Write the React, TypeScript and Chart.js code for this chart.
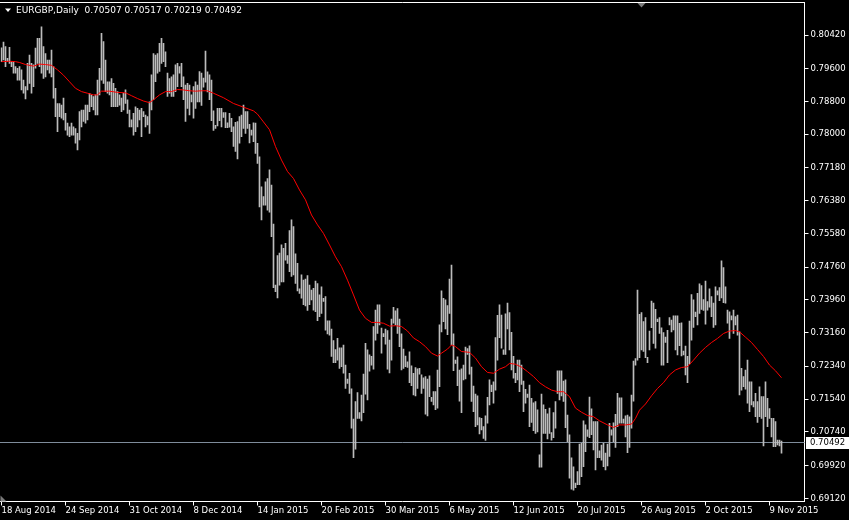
import React, { useEffect, useRef } from "react";
import { Chart, registerables } from "chart.js";

Chart.register(...registerables);

const HEADER_SYMBOL = "EURGBP,Daily";
const LAST_OHLC = [0.70507, 0.70517, 0.70219, 0.70492];

const DATE_TICKS = [
  "18 Aug 2014", "24 Sep 2014", "31 Oct 2014", "8 Dec 2014", "14 Jan 2015",
  "20 Feb 2015", "30 Mar 2015", "6 May 2015", "12 Jun 2015", "20 Jul 2015",
  "26 Aug 2015", "2 Oct 2015", "9 Nov 2015",
];
const BARS_PER_DATE_TICK = 32;
const TOTAL_SLOTS = 402;

const PRICE_TICKS = [
  0.8042, 0.796, 0.788, 0.78, 0.7718, 0.7638, 0.7558, 0.7476, 0.7396,
  0.7316, 0.7234, 0.7154, 0.7074, 0.6992, 0.6912,
];
const PRICE_MIN = 0.69042;
const PRICE_MAX = 0.81213;

const HIGHS = [
  0.8011, 0.8025, 0.8014, 0.7985, 0.8012, 0.7977, 0.7977, 0.7965, 0.7961, 0.7965,
  0.7957, 0.7932, 0.7916, 0.7973, 0.7993, 0.7973, 0.7969, 0.801, 0.8034, 0.8034,
  0.8062, 0.8014, 0.7997, 0.7981, 0.7981, 0.8005, 0.7965, 0.7912, 0.7875, 0.7875,
  0.7871, 0.7888, 0.7851, 0.7827, 0.7818, 0.7827, 0.7818, 0.7814, 0.7802, 0.7855,
  0.7859, 0.7859, 0.7871, 0.7871, 0.79, 0.7896, 0.7892, 0.7896, 0.7932, 0.7961,
  0.8046, 0.8026, 0.7981, 0.7928, 0.7928, 0.7936, 0.7924, 0.7912, 0.7904, 0.7896,
  0.7888, 0.79, 0.7908, 0.7884, 0.7859, 0.7835, 0.7851, 0.7867, 0.7863, 0.7859,
  0.7863, 0.7855, 0.7847, 0.7843, 0.7879, 0.7945, 0.7997, 0.7993, 0.7997, 0.8022,
  0.8034, 0.8022, 0.8001, 0.7949, 0.7936, 0.794, 0.7945, 0.7969, 0.7973, 0.7965,
  0.7973, 0.794, 0.792, 0.7924, 0.792, 0.7896, 0.7916, 0.7928, 0.792, 0.7953,
  0.7949, 0.7937, 0.8003, 0.7952, 0.7945, 0.7932, 0.7857, 0.7822, 0.7863, 0.7863,
  0.7863, 0.7853, 0.7853, 0.7828, 0.7851, 0.7839, 0.7818, 0.7829, 0.7831, 0.7843,
  0.7847, 0.7871, 0.7855, 0.7855, 0.7824, 0.781, 0.7828, 0.7827, 0.7778, 0.7745,
  0.7672, 0.7648, 0.7684, 0.7692, 0.7713, 0.7676, 0.7581, 0.7432, 0.7504, 0.751,
  0.753, 0.7522, 0.7534, 0.7504, 0.7565, 0.7591, 0.7575, 0.7508, 0.7485, 0.7423,
  0.7457, 0.7444, 0.7447, 0.7455, 0.7432, 0.742, 0.7424, 0.7442, 0.7436, 0.7408,
  0.7428, 0.74, 0.7404, 0.7345, 0.7345, 0.7325, 0.7297, 0.7275, 0.7302, 0.7279,
  0.7279, 0.7286, 0.7237, 0.7203, 0.7217, 0.7179, 0.7105, 0.7148, 0.717, 0.7121,
  0.7164, 0.7215, 0.729, 0.7274, 0.7262, 0.7258, 0.7331, 0.7371, 0.7384, 0.7384,
  0.7327, 0.7314, 0.7325, 0.7321, 0.7298, 0.7349, 0.7378, 0.7369, 0.7375, 0.7349,
  0.7313, 0.7276, 0.7259, 0.7245, 0.7269, 0.7235, 0.7217, 0.7231, 0.7228, 0.7229,
  0.7213, 0.7206, 0.7209, 0.7203, 0.7211, 0.7158, 0.7172, 0.7172, 0.7225, 0.7335,
  0.7418, 0.74, 0.7396, 0.7382, 0.7447, 0.7481, 0.7313, 0.7249, 0.7257, 0.7225,
  0.7228, 0.7237, 0.7281, 0.7277, 0.7284, 0.7232, 0.7186, 0.7166, 0.7162, 0.7109,
  0.7107, 0.7087, 0.7113, 0.7158, 0.7201, 0.7188, 0.7196, 0.7304, 0.7358, 0.7384,
  0.7359, 0.7274, 0.7362, 0.7388, 0.7365, 0.7317, 0.7258, 0.7217, 0.7249, 0.7249,
  0.7237, 0.7198, 0.7178, 0.7166, 0.7188, 0.7156, 0.7145, 0.7148, 0.7128, 0.7018,
  0.7166, 0.714, 0.7129, 0.7118, 0.7132, 0.7072, 0.7121, 0.7148, 0.7223, 0.7223,
  0.7223, 0.7198, 0.7201, 0.7115, 0.7067, 0.7011, 0.6989, 0.6949, 0.6977, 0.7044,
  0.7046, 0.7101, 0.7091, 0.7079, 0.7159, 0.713, 0.7099, 0.7099, 0.7099, 0.7028,
  0.7042, 0.7046, 0.7022, 0.7044, 0.7095, 0.7079, 0.7096, 0.7117, 0.7168, 0.7157,
  0.7157, 0.7105, 0.7113, 0.7115, 0.7111, 0.7164, 0.7247, 0.7253, 0.742, 0.7361,
  0.7365, 0.7343, 0.7353, 0.7256, 0.732, 0.7393, 0.7388, 0.7373, 0.7349, 0.7353,
  0.7328, 0.7316, 0.7305, 0.7322, 0.7353, 0.7347, 0.7357, 0.7357, 0.7357, 0.7339,
  0.734, 0.7271, 0.7283, 0.7258, 0.7344, 0.7409, 0.7396, 0.7366, 0.7412, 0.7435,
  0.7431, 0.7397, 0.7442, 0.7392, 0.7423, 0.7404, 0.7388, 0.7428, 0.7418, 0.7426,
  0.7491, 0.7475, 0.7428, 0.7371, 0.7367, 0.7357, 0.7371, 0.7355, 0.7359, 0.7318,
  0.7229, 0.7209, 0.7225, 0.7249, 0.7196, 0.7196, 0.7148, 0.7168, 0.7148, 0.7184,
  0.716, 0.716, 0.7196, 0.7156, 0.7131, 0.7107, 0.7107, 0.7099, 0.7054, 0.7054,
  0.70517,
];

const LOWS = [
  0.7977, 0.7981, 0.7965, 0.7977, 0.7973, 0.7965, 0.7949, 0.7949, 0.7932, 0.7932,
  0.7908, 0.79, 0.7886, 0.7908, 0.7924, 0.79, 0.7916, 0.7961, 0.7973, 0.7965,
  0.7949, 0.7936, 0.794, 0.7957, 0.7949, 0.794, 0.7888, 0.7843, 0.7806, 0.7843,
  0.7839, 0.7835, 0.781, 0.7798, 0.7794, 0.7798, 0.7798, 0.7778, 0.7762, 0.7786,
  0.7818, 0.7831, 0.7827, 0.7835, 0.7855, 0.7867, 0.7859, 0.7847, 0.7847, 0.7896,
  0.7932, 0.7924, 0.7904, 0.79, 0.7896, 0.7867, 0.7867, 0.7867, 0.7867, 0.7871,
  0.7855, 0.7859, 0.7875, 0.7851, 0.7818, 0.7818, 0.7798, 0.7806, 0.7818, 0.7835,
  0.7794, 0.7843, 0.7818, 0.7823, 0.7802, 0.7859, 0.7884, 0.7928, 0.7949, 0.7953,
  0.7973, 0.7977, 0.7965, 0.7892, 0.79, 0.7892, 0.7892, 0.7904, 0.7916, 0.7949,
  0.7916, 0.7884, 0.7831, 0.7863, 0.7847, 0.7879, 0.7839, 0.7863, 0.7879, 0.7879,
  0.787, 0.7915, 0.7927, 0.7903, 0.7884, 0.7833, 0.7809, 0.7814, 0.782, 0.7833,
  0.7818, 0.7841, 0.7816, 0.7816, 0.7817, 0.7806, 0.777, 0.7758, 0.774, 0.7778,
  0.7794, 0.7814, 0.7802, 0.7814, 0.7779, 0.7798, 0.7782, 0.7753, 0.7729, 0.7623,
  0.7591, 0.7627, 0.7627, 0.7615, 0.761, 0.755, 0.7426, 0.7416, 0.7401, 0.7432,
  0.744, 0.744, 0.7493, 0.7485, 0.7465, 0.7453, 0.7457, 0.7436, 0.7418, 0.7412,
  0.74, 0.7384, 0.7381, 0.737, 0.7384, 0.7396, 0.7371, 0.7367, 0.7345, 0.7355,
  0.7363, 0.7392, 0.7322, 0.7313, 0.731, 0.7258, 0.7243, 0.7243, 0.7249, 0.7229,
  0.7233, 0.7217, 0.718, 0.7192, 0.7168, 0.7083, 0.7011, 0.7032, 0.7107, 0.7107,
  0.7101, 0.7121, 0.7166, 0.7152, 0.7222, 0.7237, 0.7227, 0.7298, 0.7314, 0.7335,
  0.7266, 0.7306, 0.7288, 0.7227, 0.7218, 0.7249, 0.7339, 0.7335, 0.7314, 0.7282,
  0.7225, 0.7229, 0.7233, 0.7231, 0.7194, 0.7187, 0.7164, 0.7162, 0.718, 0.7215,
  0.7168, 0.718, 0.7117, 0.7113, 0.716, 0.7148, 0.714, 0.7128, 0.7132, 0.7184,
  0.7318, 0.7343, 0.7325, 0.7311, 0.7363, 0.7286, 0.7223, 0.7241, 0.7187, 0.7149,
  0.7121, 0.7201, 0.7203, 0.7263, 0.7215, 0.7148, 0.7123, 0.7087, 0.7091, 0.7069,
  0.7079, 0.7058, 0.7053, 0.7095, 0.714, 0.7172, 0.7144, 0.7176, 0.7249, 0.7304,
  0.7278, 0.7263, 0.7263, 0.7325, 0.7274, 0.7225, 0.7205, 0.7194, 0.7201, 0.7172,
  0.719, 0.7123, 0.7144, 0.7158, 0.7087, 0.7097, 0.7077, 0.707, 0.7074, 0.6988,
  0.6988, 0.707, 0.707, 0.7057, 0.707, 0.7054, 0.706, 0.7083, 0.7168, 0.7152,
  0.7162, 0.7148, 0.7084, 0.705, 0.6961, 0.6934, 0.6932, 0.6938, 0.6945, 0.6945,
  0.6965, 0.6989, 0.7026, 0.7063, 0.706, 0.7067, 0.703, 0.6981, 0.7011, 0.7011,
  0.7005, 0.6989, 0.6981, 0.6991, 0.7014, 0.7066, 0.705, 0.7036, 0.7087, 0.7095,
  0.7095, 0.7095, 0.7062, 0.7023, 0.7036, 0.7083, 0.7149, 0.7237, 0.7249, 0.7255,
  0.7274, 0.727, 0.7255, 0.7243, 0.7274, 0.7328, 0.729, 0.7278, 0.7343, 0.7314,
  0.7237, 0.7237, 0.7292, 0.7243, 0.7335, 0.7318, 0.7323, 0.7274, 0.7262, 0.7284,
  0.7259, 0.7262, 0.7213, 0.7194, 0.724, 0.7298, 0.7329, 0.7355, 0.7335, 0.7363,
  0.7373, 0.737, 0.7337, 0.7371, 0.7378, 0.7355, 0.7329, 0.7335, 0.7408, 0.7394,
  0.7401, 0.7389, 0.7388, 0.7339, 0.7302, 0.7347, 0.7314, 0.7335, 0.731, 0.7164,
  0.7176, 0.7184, 0.7178, 0.7144, 0.7123, 0.714, 0.7135, 0.7111, 0.7097, 0.7111,
  0.7107, 0.704, 0.7111, 0.7087, 0.7107, 0.7062, 0.7038, 0.7038, 0.7042, 0.704,
  0.70219,
];

// Moving average read at sampled bars (bar index, value)
const MA_INDEX = [
  0, 4, 7, 9, 12, 16, 19, 22, 25, 28, 31, 34, 37, 40, 43, 46, 48, 50, 54, 58,
  62, 65, 68, 71, 74, 76, 79, 82, 85, 88, 91, 94, 97, 100, 103, 106, 111, 116, 121, 126,
  128, 131, 134, 137, 140, 143, 146, 149, 152, 155, 158, 161, 164, 167, 170, 173, 176, 179, 182, 185,
  188, 191, 194, 197, 200, 203, 206, 209, 212, 215, 218, 220, 223, 225, 227, 230, 234, 237, 240, 243,
  246, 249, 252, 254, 257, 260, 263, 266, 269, 272, 275, 278, 281, 284, 287, 290, 293, 296, 299, 303,
  306, 309, 312, 315, 317, 319, 322, 325, 328, 331, 334, 337, 340, 343, 346, 349, 352, 355, 358, 361,
  364, 367, 369, 372, 375, 378, 381, 384, 387, 390,
];
const MA_VALUE = [
  0.7977, 0.7978, 0.7977, 0.7975, 0.797, 0.7966, 0.7971, 0.797, 0.7968, 0.7957, 0.7944, 0.7928, 0.7912, 0.7904, 0.79, 0.7896, 0.7896, 0.7905, 0.7905, 0.7902,
  0.7901, 0.7894, 0.7887, 0.7881, 0.7877, 0.7884, 0.7896, 0.7904, 0.7904, 0.7909, 0.7908, 0.7906, 0.7905, 0.7906, 0.7906, 0.79, 0.7889, 0.7875, 0.7866, 0.7857,
  0.7849, 0.783, 0.7811, 0.777, 0.7737, 0.7709, 0.7692, 0.7664, 0.764, 0.7603, 0.7579, 0.7558, 0.753, 0.7501, 0.7477, 0.7444, 0.7408, 0.7371, 0.7351, 0.7341,
  0.7341, 0.7339, 0.7332, 0.7333, 0.7331, 0.732, 0.7303, 0.7294, 0.7282, 0.7266, 0.7259, 0.7266, 0.7276, 0.7286, 0.7282, 0.727, 0.7268, 0.7254, 0.7233, 0.7219,
  0.7217, 0.7227, 0.7233, 0.7241, 0.7239, 0.7232, 0.7221, 0.7209, 0.7194, 0.7184, 0.7176, 0.7172, 0.7172, 0.716, 0.7132, 0.7122, 0.7114, 0.7111, 0.7101, 0.7091,
  0.7085, 0.7091, 0.7091, 0.7093, 0.7107, 0.7127, 0.7142, 0.7162, 0.718, 0.7194, 0.7213, 0.7225, 0.7231, 0.7233, 0.7249, 0.7266, 0.728, 0.7292, 0.7302, 0.7314,
  0.732, 0.7321, 0.7318, 0.7305, 0.7292, 0.7275, 0.7258, 0.7237, 0.7223, 0.7206,
];

const BG = "#000000";
const FG = "#FFFFFF";
const BAR_COLOR = "#bcbcbc";
const MA_COLOR = "#FF0000";
const BID_LINE_COLOR = "#7f8c9b";
const FONT_FAMILY = "'DejaVu Sans', 'Liberation Sans', sans-serif";
const FONT_SIZE = 8.5;

export default function App() {
  const canvasRef = useRef<HTMLCanvasElement | null>(null);

  useEffect(() => {
    document.body.style.margin = "0";
    document.body.style.background = BG;
    const canvas = canvasRef.current;
    if (!canvas) return;

    const labels = Array.from({ length: TOTAL_SLOTS }, (_, i) =>
      i % BARS_PER_DATE_TICK === 0 && DATE_TICKS[i / BARS_PER_DATE_TICK]
        ? DATE_TICKS[i / BARS_PER_DATE_TICK]
        : ""
    );
    const barData = HIGHS.map((h, i) => [LOWS[i], h]);
    const maData: (number | null)[] = Array.from({ length: HIGHS.length }, () => null);
    MA_INDEX.forEach((idx, k) => {
      maData[idx] = MA_VALUE[k];
    });
    const lastClose = LAST_OHLC[3];

    const mtPlugin = {
      id: "mtDecor",
      beforeDraw(chart: any) {
        const ctx = chart.ctx;
        ctx.save();
        ctx.fillStyle = BG;
        ctx.fillRect(0, 0, chart.width, chart.height);
        ctx.restore();
      },
      beforeDatasetsDraw(chart: any) {
        const ctx = chart.ctx;
        const { left, right } = chart.chartArea;
        const y = Math.round(chart.scales.y.getPixelForValue(lastClose)) + 0.5;
        ctx.save();
        ctx.strokeStyle = BID_LINE_COLOR;
        ctx.lineWidth = 1;
        ctx.beginPath();
        ctx.moveTo(left - 0.5, y);
        ctx.lineTo(right, y);
        ctx.stroke();
        ctx.restore();
      },
      afterDraw(chart: any) {
        const ctx = chart.ctx;
        const { left, right, top, bottom } = chart.chartArea;
        ctx.save();
        ctx.strokeStyle = FG;
        ctx.lineWidth = 1;
        ctx.beginPath();
        ctx.moveTo(0, Math.floor(top) + 0.5);
        ctx.lineTo(Math.floor(right) + 0.5, Math.floor(top) + 0.5);
        ctx.stroke();

        ctx.fillStyle = FG;
        ctx.beginPath();
        ctx.moveTo(5, 8.5);
        ctx.lineTo(11, 8.5);
        ctx.lineTo(8, 12);
        ctx.closePath();
        ctx.fill();
        ctx.font = `${FONT_SIZE + 0.5}px ${FONT_FAMILY}`;
        ctx.textBaseline = "middle";
        ctx.textAlign = "left";
        ctx.fillText(
          `${HEADER_SYMBOL}  ${LAST_OHLC.map((v) => v.toFixed(5)).join(" ")}`,
          16,
          11
        );

        ctx.fillStyle = "#7a7a7a";
        const shiftX = chart.scales.x.getPixelForValue(320);
        ctx.beginPath();
        ctx.moveTo(shiftX - 4, top + 0.5);
        ctx.lineTo(shiftX + 4, top + 0.5);
        ctx.lineTo(shiftX, top + 5);
        ctx.closePath();
        ctx.fill();
        ctx.beginPath();
        ctx.moveTo(left, bottom - 6);
        ctx.lineTo(left + 6, bottom);
        ctx.lineTo(left, bottom);
        ctx.closePath();
        ctx.fill();

        const y = Math.round(chart.scales.y.getPixelForValue(lastClose));
        ctx.fillStyle = FG;
        ctx.fillRect(Math.floor(right) + 2, y - 5, chart.width - Math.floor(right) - 2, 12);
        ctx.fillStyle = "#000000";
        ctx.font = `${FONT_SIZE}px ${FONT_FAMILY}`;
        ctx.textBaseline = "middle";
        ctx.fillText(lastClose.toFixed(5), Math.floor(right) + 6, y + 1);
        ctx.restore();
      },
    };

    const chart = new Chart(canvas, {
      type: "bar",
      data: {
        labels,
        datasets: [
          {
            type: "line",
            label: "MA",
            data: maData,
            borderColor: MA_COLOR,
            borderWidth: 1,
            pointRadius: 0,
            spanGaps: true,
            tension: 0,
            order: 1,
          } as any,
          {
            type: "bar",
            label: "EURGBP",
            data: barData as any,
            backgroundColor: BAR_COLOR,
            borderWidth: 0,
            barThickness: 1,
            grouped: false,
            order: 2,
          } as any,
        ],
      },
      options: {
        responsive: false,
        animation: false,
        events: [],
        layout: { padding: { top: 2.5, left: 0.5, right: 0, bottom: 0 } },
        plugins: {
          legend: { display: false },
          tooltip: { enabled: false },
        },
        scales: {
          x: {
            type: "category",
            offset: true,
            border: { display: true, color: FG, width: 1 },
            grid: {
              display: true,
              offset: false,
              drawOnChartArea: false,
              drawTicks: true,
              tickLength: 4,
              color: FG,
            },
            ticks: {
              autoSkip: false,
              maxRotation: 0,
              minRotation: 0,
              align: "start",
              padding: 0,
              color: FG,
              font: { family: FONT_FAMILY, size: FONT_SIZE },
              callback: (_v: any, index: number) =>
                index % BARS_PER_DATE_TICK === 0 && DATE_TICKS[index / BARS_PER_DATE_TICK]
                  ? DATE_TICKS[index / BARS_PER_DATE_TICK]
                  : null,
            },
            afterFit: (scale: any) => {
              scale.height = 18.5;
              scale.paddingLeft = 0;
              scale.paddingRight = 0;
            },
          },
          y: {
            type: "linear",
            position: "right",
            min: PRICE_MIN,
            max: PRICE_MAX,
            border: { display: true, color: FG, width: 1 },
            grid: {
              display: true,
              drawOnChartArea: false,
              drawTicks: true,
              tickLength: 4,
              color: FG,
            },
            afterBuildTicks: (scale: any) => {
              scale.ticks = PRICE_TICKS.map((v) => ({ value: v }));
            },
            ticks: {
              autoSkip: false,
              padding: 2,
              color: FG,
              font: { family: FONT_FAMILY, size: FONT_SIZE },
              callback: (v: any) => Number(v).toFixed(5),
            },
            afterFit: (scale: any) => {
              scale.width = 44.5;
              scale.paddingTop = 0;
              scale.paddingBottom = 0;
            },
          },
        },
      },
      plugins: [mtPlugin],
    });

    return () => {
      chart.destroy();
    };
  }, []);

  return (
    <div style={{ width: 849, height: 520, background: BG }}>
      <canvas ref={canvasRef} width={849} height={520} style={{ display: "block" }} />
    </div>
  );
}
